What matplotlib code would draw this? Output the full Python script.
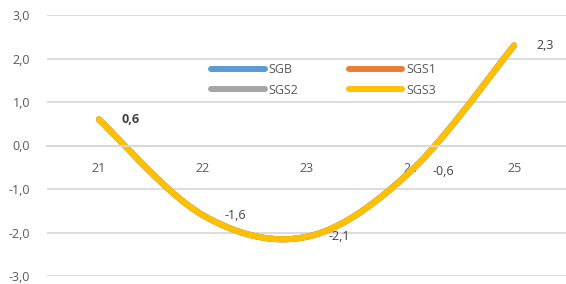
import numpy as np
import matplotlib
matplotlib.use("Agg")
import matplotlib.pyplot as plt

plt.rcParams['font.family'] = ['Open Sans', 'DejaVu Sans']

# data
categories = [21, 22, 23, 24, 25]
series_names = ['SGB', 'SGS1', 'SGS2', 'SGS3']
series_colors = ['#5B9BD5', '#ED7D31', '#A5A5A5', '#FFC000']
values = [0.6, -1.6, -2.1, -0.6, 2.3]
yticks = [-3, -2, -1, 0, 1, 2, 3]


def smooth(xs, ys, n=40):
    # excel-like smoothed line (catmull-rom bezier)
    P = np.column_stack([xs, ys]).astype(float)
    P = np.vstack([P[0], P, P[-1]])
    out = []
    for i in range(1, len(P) - 2):
        p0, p1, p2, p3 = P[i - 1], P[i], P[i + 1], P[i + 2]
        c1 = p1 + (p2 - p0) / 6
        c2 = p2 - (p3 - p1) / 6
        t = np.linspace(0, 1, n)[:, None]
        seg = (1 - t)**3 * p1 + 3 * (1 - t)**2 * t * c1 + 3 * (1 - t) * t**2 * c2 + t**3 * p2
        out.append(seg if i == 1 else seg[1:])
    out = np.vstack(out)
    return out[:, 0], out[:, 1]


fig = plt.figure(figsize=(5.66, 2.84), dpi=100)
ax = fig.add_axes([47 / 566, 1 - 276 / 284, 519 / 566, 261 / 284])

sx, sy = smooth(categories, values)
lines = []
for name, col in zip(series_names, series_colors):
    l, = ax.plot(sx, sy, color=col, lw=4.3, solid_capstyle='round', label=name)
    lines.append(l)

ax.set_xlim(20.5, 25.5)
ax.set_ylim(-3, 3)
ax.set_yticks(yticks)
ax.yaxis.set_major_formatter(plt.FuncFormatter(lambda v, p: ('%.1f' % v).replace('.', ',')))
ax.set_xticks(categories)
ax.set_xticklabels([str(c) for c in categories])
ax.grid(axis='y', color='#D9D9D9', lw=1.3)
ax.set_axisbelow(True)
for s in ['top', 'right', 'left']:
    ax.spines[s].set_visible(False)
ax.spines['bottom'].set_position(('data', 0))
ax.spines['bottom'].set_color('#D9D9D9')
ax.spines['bottom'].set_linewidth(1.3)
ax.tick_params(axis='both', length=0, colors='#595959', labelsize=9)
ax.tick_params(axis='x', pad=12)
ax.tick_params(axis='y', pad=12)

for i, (c, v) in enumerate(zip(categories, values)):
    ax.annotate(('%.1f' % v).replace('.', ','), (c, v), xytext=(16, 0),
                textcoords='offset points', ha='left', va='center',
                fontsize=9, color='#404040',
                fontweight='bold' if i == 0 else 'normal')

# row-wise legend order: SGB SGS1 / SGS2 SGS3
order = [0, 2, 1, 3]
ax.legend([lines[k] for k in order], [series_names[k] for k in order],
          loc='upper left', bbox_to_anchor=(200 / 566, 1 - 52 / 284),
          bbox_transform=fig.transFigure, ncol=2, frameon=False,
          fontsize=9, handlelength=4.3, handletextpad=0.3, columnspacing=4.0,
          labelspacing=0.6, labelcolor='#595959')

fig.savefig('out.png', dpi=100)
